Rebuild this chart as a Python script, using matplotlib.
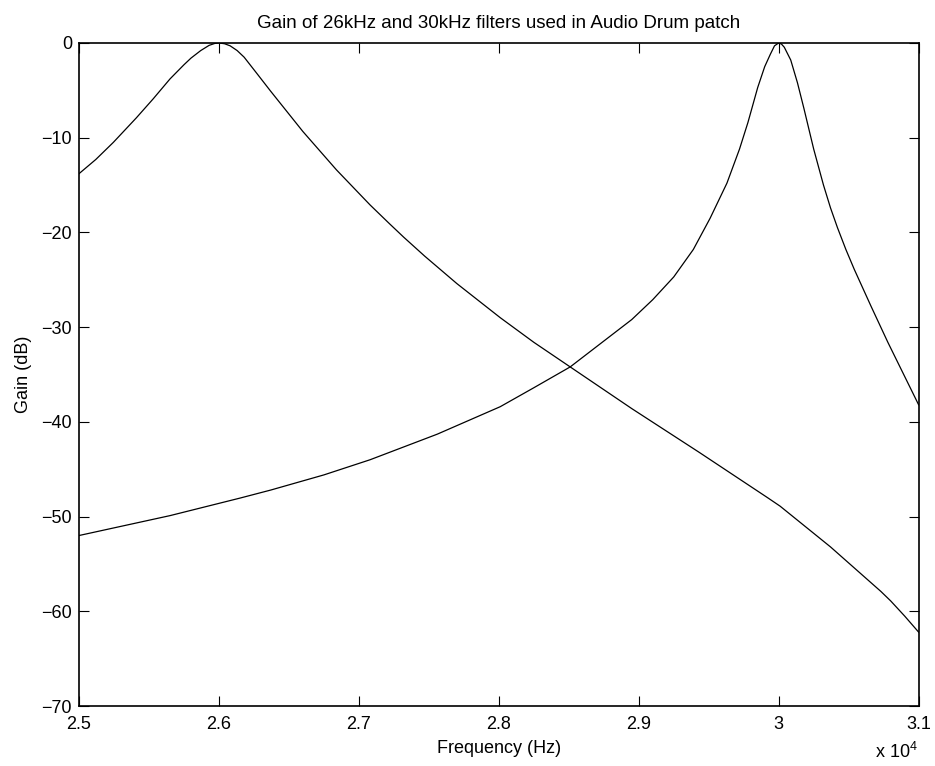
import matplotlib
matplotlib.use("Agg")
import matplotlib.pyplot as plt

# 26 kHz filter, frequency in kHz, gain in dB
f26 = [25.00, 25.12, 25.245, 25.41, 25.53, 25.65, 25.75, 25.80, 25.87, 25.93,
       25.97, 26.00, 26.04, 26.08, 26.13, 26.18, 26.27, 26.37, 26.60, 26.84,
       27.08, 27.22, 27.32, 27.47, 27.70, 28.01, 28.25, 28.51, 28.95, 29.43,
       29.92, 30.01, 30.37, 30.73, 30.80, 30.90, 31.00]
g26 = [-13.8, -12.3, -10.5, -7.9, -5.9, -3.8, -2.3, -1.6, -0.8, -0.25,
       -0.05, 0.0, -0.08, -0.3, -0.8, -1.5, -3.2, -5.1, -9.35, -13.4,
       -17.1, -19.1, -20.5, -22.5, -25.4, -29.0, -31.6, -34.2, -38.6, -43.2,
       -48.0, -48.9, -53.2, -57.9, -58.9, -60.5, -62.2]

# 30 kHz filter
f30 = [25.00, 25.65, 26.15, 26.37, 26.75, 27.08, 27.56, 28.01, 28.25, 28.51,
       28.95, 29.10, 29.25, 29.39, 29.51, 29.63, 29.72, 29.78, 29.85, 29.90,
       29.94, 29.97, 30.00, 30.02, 30.04, 30.086, 30.134, 30.18, 30.25, 30.32,
       30.37, 30.42, 30.48, 30.54, 30.66, 30.78, 30.90, 31.00]
g30 = [-52.0, -49.9, -48.05, -47.2, -45.6, -44.0, -41.3, -38.4, -36.4, -34.2,
       -29.2, -27.1, -24.7, -21.8, -18.5, -14.8, -11.2, -8.4, -4.7, -2.5,
       -1.2, -0.3, 0.0, -0.12, -0.45, -1.8, -4.2, -6.9, -11.2, -15.0,
       -17.4, -19.5, -21.8, -23.9, -27.8, -31.6, -35.2, -38.2]

xticks = [25000, 26000, 27000, 28000, 29000, 30000, 31000]
xticklabels = ["2.5", "2.6", "2.7", "2.8", "2.9", "3", "3.1"]
yticks = [0, -10, -20, -30, -40, -50, -60, -70]

plt.rcParams["font.family"] = ["Liberation Sans", "DejaVu Sans"]
plt.rcParams["mathtext.fontset"] = "custom"
plt.rcParams["mathtext.rm"] = "Liberation Sans"

fig = plt.figure(figsize=(9.35, 7.66), dpi=100)
ax = fig.add_axes([0.0845, 0.0783, 0.898, 0.8656])

ax.plot([f * 1000 for f in f26], g26, color="black", lw=0.9)
ax.plot([f * 1000 for f in f30], g30, color="black", lw=0.9)

ax.set_xlim(25000, 31000)
ax.set_ylim(-70, 0)
ax.set_xticks(xticks)
ax.set_xticklabels(xticklabels)
ax.set_yticks(yticks)
ax.set_yticklabels(["\u2212" + str(-v) if v < 0 else str(v) for v in yticks])
ax.tick_params(direction="in", length=7, width=0.8, labelsize=13,
               top=True, right=True)
ax.tick_params(axis="x", pad=7)
ax.tick_params(axis="y", pad=5)
for s in ax.spines.values():
    s.set_linewidth(1.2)

ax.set_title("Gain of 26kHz and 30kHz filters used in Audio Drum patch",
             fontsize=13.5, pad=11)
ax.set_xlabel("Frequency (Hz)", fontsize=13, labelpad=5)
ax.set_ylabel("Gain (dB)", fontsize=13, labelpad=7)
fig.text(918 / 935, 8 / 766, r"x 10$^4$", ha="right", va="baseline",
         fontsize=13)

fig.savefig("out.png", dpi=100)
